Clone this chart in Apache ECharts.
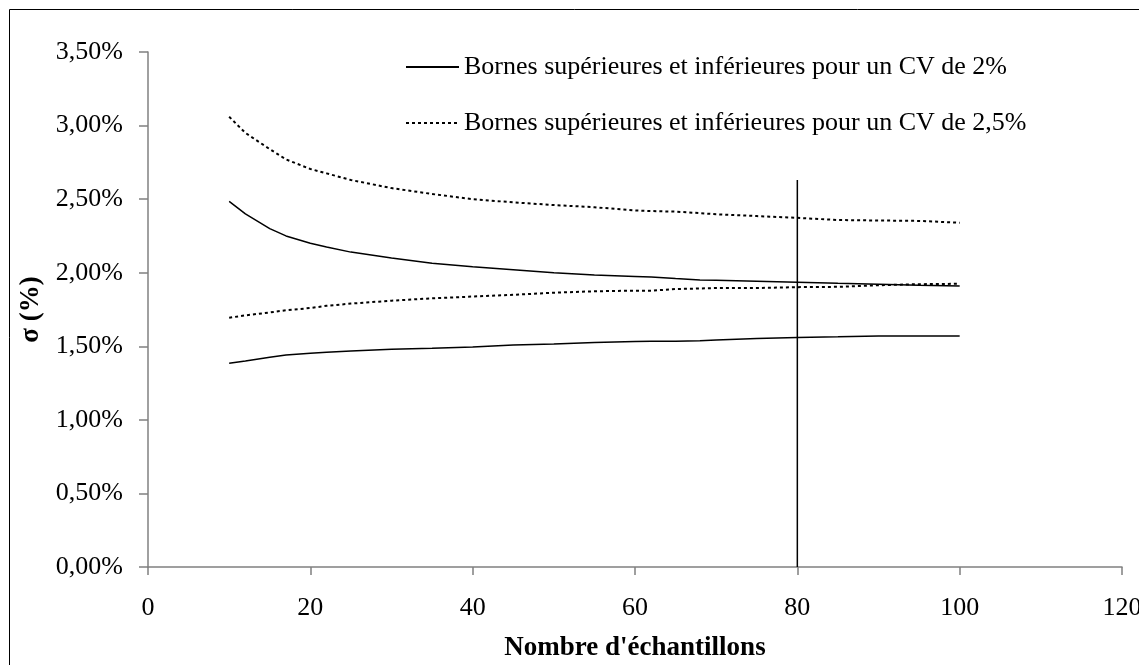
<!DOCTYPE html>
<html>
<head>
<meta charset="utf-8">
<script src="https://cdn.jsdelivr.net/npm/echarts@6/dist/echarts.min.js"></script>
<style>
  html, body { margin: 0; padding: 0; background: #fff; }
  #chart { width: 1139px; height: 665px; }
</style>
</head>
<body>
<div id="chart"></div>
<script>
// Nombre d'échantillons (n)
const samples = [10, 12, 15, 17, 20, 22, 25, 30, 35, 40, 45, 50, 55, 60, 62, 65, 68, 70, 75, 80, 85, 90, 95, 100];

// Bornes de sigma (%) pour un CV de 2 %
const cv2Upper = [2.485, 2.40, 2.30, 2.25, 2.20, 2.175, 2.14, 2.10, 2.065, 2.04, 2.02, 2.00, 1.985, 1.975, 1.971, 1.96, 1.95, 1.948, 1.942, 1.935, 1.928, 1.922, 1.915, 1.91];
const cv2Lower = [1.384, 1.40, 1.425, 1.44, 1.452, 1.46, 1.468, 1.48, 1.487, 1.495, 1.508, 1.515, 1.525, 1.532, 1.534, 1.535, 1.537, 1.543, 1.553, 1.56, 1.564, 1.57, 1.57, 1.57];

// Bornes de sigma (%) pour un CV de 2,5 %
const cv25Upper = [3.06, 2.95, 2.84, 2.77, 2.705, 2.675, 2.63, 2.575, 2.535, 2.50, 2.478, 2.46, 2.445, 2.423, 2.419, 2.415, 2.405, 2.397, 2.385, 2.373, 2.358, 2.355, 2.352, 2.34];
const cv25Lower = [1.694, 1.71, 1.73, 1.745, 1.76, 1.775, 1.79, 1.81, 1.826, 1.838, 1.85, 1.864, 1.874, 1.878, 1.878, 1.889, 1.893, 1.896, 1.896, 1.902, 1.904, 1.915, 1.922, 1.925];

// Repère vertical à n = 80
const markerX = [80, 80];
const markerY = [0, 2.63];

const xTicks = { min: 0, max: 120, step: 20 };
const yTicks = { min: 0, max: 3.5, step: 0.5 };

const nameCv2 = 'Bornes supérieures et inférieures pour un CV de 2%';
const nameCv25 = 'Bornes supérieures et inférieures pour un CV de 2,5%';

const FONT = '"Liberation Serif", "Times New Roman", serif';

function pairs(xs, ys) {
  return xs.map((x, i) => [x, ys[i]]);
}

const solid = { color: '#000', width: 1.5, type: 'solid' };
const dotted = { color: '#000', width: 2, type: [3, 3] };

function lineSeries(name, ys, style) {
  return {
    name: name,
    type: 'line',
    data: pairs(samples, ys),
    symbol: 'none',
    smooth: false,
    lineStyle: style,
    itemStyle: { color: '#000' },
    animation: false,
    silent: true
  };
}

const chart = echarts.init(document.getElementById('chart'), null, { renderer: 'canvas' });

chart.setOption({
  backgroundColor: '#fff',
  animation: false,
  textStyle: { fontFamily: FONT },
  grid: { left: 148, right: 17, top: 52, bottom: 98, containLabel: false, outerBoundsMode: 'none' },
  graphic: [{
    type: 'rect',
    shape: { x: 9.5, y: 9.5, width: 1160, height: 700 },
    style: { fill: null, stroke: '#000', lineWidth: 1 },
    silent: true,
    z: -1
  }],
  legend: {
    orient: 'vertical',
    left: 400,
    top: 49,
    itemWidth: 53,
    itemHeight: 14,
    itemGap: 30,
    data: [nameCv2, nameCv25],
    itemStyle: { opacity: 0 },
    textStyle: { fontFamily: FONT, fontSize: 26, color: '#000' },
    selectedMode: false
  },
  xAxis: {
    type: 'value',
    min: xTicks.min,
    max: xTicks.max,
    interval: xTicks.step,
    name: "Nombre d'échantillons",
    nameLocation: 'middle',
    nameGap: 68,
    nameTextStyle: { fontFamily: FONT, fontSize: 27, fontWeight: 'bold', color: '#000' },
    axisLine: { show: true, lineStyle: { color: '#808080', width: 1.5 } },
    axisTick: { show: true, inside: false, length: 8, lineStyle: { color: '#808080', width: 1.5 } },
    axisLabel: { fontFamily: FONT, fontSize: 26, color: '#000', margin: 28 },
    splitLine: { show: false }
  },
  yAxis: {
    type: 'value',
    min: yTicks.min,
    max: yTicks.max,
    interval: yTicks.step,
    name: 'σ (%)',
    nameLocation: 'middle',
    nameGap: 101,
    nameRotate: 90,
    nameTextStyle: { fontFamily: FONT, fontSize: 27, fontWeight: 'bold', color: '#000' },
    axisLine: { show: true, lineStyle: { color: '#808080', width: 1.5 } },
    axisTick: { show: true, inside: false, length: 9, lineStyle: { color: '#808080', width: 1.5 } },
    axisLabel: {
      fontFamily: FONT, fontSize: 26, color: '#000', margin: 25,
      formatter: v => v.toFixed(2).replace('.', ',') + '%'
    },
    splitLine: { show: false }
  },
  series: [
    lineSeries(nameCv2, cv2Upper, solid),
    lineSeries(nameCv2, cv2Lower, solid),
    lineSeries(nameCv25, cv25Upper, dotted),
    lineSeries(nameCv25, cv25Lower, dotted),
    {
      name: 'n80',
      type: 'line',
      data: pairs(markerX, markerY),
      symbol: 'none',
      lineStyle: { color: '#000', width: 1.5 },
      animation: false,
      silent: true
    }
  ]
});
</script>
</body>
</html>
